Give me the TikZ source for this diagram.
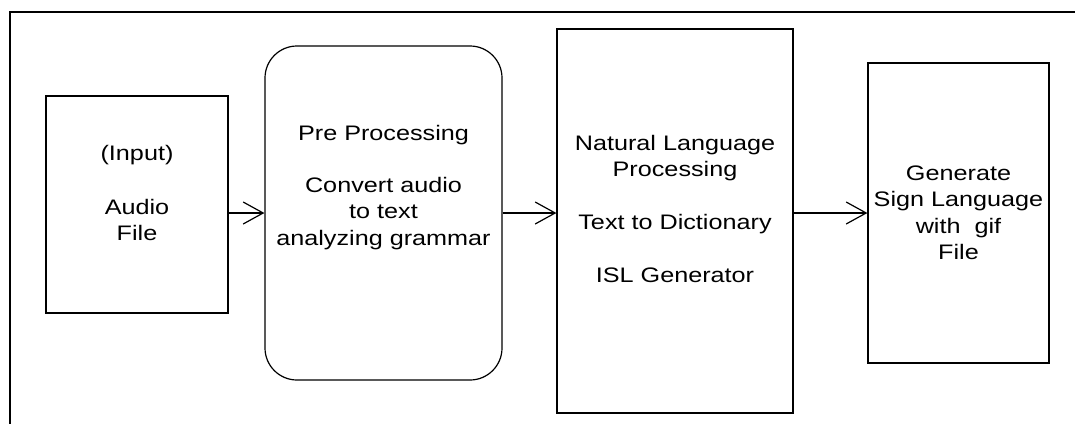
\documentclass[tikz,border=0pt]{standalone}
\usepackage{fontspec}
\setmainfont{Liberation Sans}[FakeStretch=1.2]
\usetikzlibrary{arrows.meta}

\begin{document}
\begin{tikzpicture}[x=1pt,y=-1pt,line width=1.2pt,
  blk/.style={draw,inner sep=0pt},
  txt/.style={align=center,font=\fontsize{21}{26.5}\selectfont},
  flow/.style={-{Straight Barb[length=20pt,width=22pt]}}]
\useasboundingbox (0,0) rectangle (1075,423);

% outer frame (cut off at right and bottom)
\draw (1085,12) -- (10,12) -- (10,433);

\node[blk,minimum width=182pt,minimum height=217pt](in) at (137,204.5){};
\node[blk,rounded corners=32pt,minimum width=237pt,minimum height=334pt](pre) at (383.5,213){};
\node[blk,minimum width=236pt,minimum height=384pt](nlp) at (675,221){};
\node[blk,minimum width=181pt,minimum height=300pt](gen) at (958.5,213){};

\node[txt](intxt) at ([yshift=11.5pt]in.center){(Input)\\[27pt]Audio\\File};
\node[txt](pretxt) at ([yshift=25.5pt]pre.center){Pre Processing\\[25pt]Convert audio\\to text\\analyzing grammar};
\node[txt](nlptxt) at ([yshift=12pt]nlp.center){Natural Language\\Processing\\[26pt]Text to Dictionary\\[27pt]ISL Generator};
\node[txt](gentxt) at (gen.center){Generate\\Sign Language\\with~ gif\\File};

\draw[flow] (pre.west -| in.east) -- (pre.west);
\draw[flow] (pre.east) -- (pre.east -| nlp.west);
\draw[flow] (gen.west -| nlp.east) -- (gen.west);

\end{tikzpicture}
\end{document}
